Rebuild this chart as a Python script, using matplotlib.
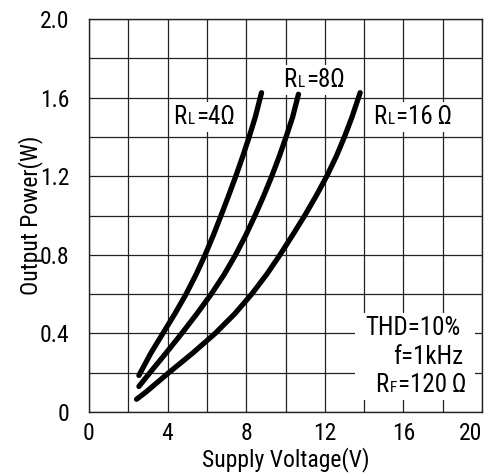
import matplotlib
matplotlib.use("Agg")
import matplotlib.pyplot as plt
from matplotlib.offsetbox import TextArea, HPacker, AnnotationBbox
from matplotlib.patches import Rectangle
from matplotlib.ticker import FixedLocator, FuncFormatter

FONT = ['Liberation Sans Narrow', 'Roboto Condensed', 'Roboto', 'DejaVu Sans']
plt.rcParams['font.family'] = FONT

# curves: supply voltage (V) vs output power (W)
v_4ohm = [2.54, 3.15, 3.76, 4.37, 4.94, 5.45, 5.91, 6.33, 6.72, 7.10, 7.47,
          7.82, 8.15, 8.46, 8.78]
p_4ohm = [0.186, 0.3, 0.4, 0.5, 0.6, 0.7, 0.8, 0.9, 1.0, 1.1, 1.2,
          1.3, 1.4, 1.5, 1.625]

v_8ohm = [2.54, 3.10, 3.92, 4.72, 5.49, 6.22, 6.88, 7.46, 7.98, 8.45, 8.89,
          9.30, 9.68, 10.03, 10.36, 10.66]
p_8ohm = [0.13, 0.2, 0.3, 0.4, 0.5, 0.6, 0.7, 0.8, 0.9, 1.0, 1.1,
          1.2, 1.3, 1.4, 1.5, 1.617]

v_16ohm = [2.42, 2.88, 3.47, 4.06, 5.28, 6.42, 7.42, 8.28, 9.04, 9.72, 10.36,
           10.98, 11.56, 12.10, 12.58, 13.00, 13.38, 13.80]
p_16ohm = [0.065, 0.1, 0.15, 0.2, 0.3, 0.4, 0.5, 0.6, 0.7, 0.8, 0.9,
           1.0, 1.1, 1.2, 1.3, 1.4, 1.5, 1.625]

x_ticks = [0, 4, 8, 12, 16, 20]
y_ticks = [0, 0.4, 0.8, 1.2, 1.6, 2.0]

fig = plt.figure(figsize=(4.88, 4.76), dpi=100)
ax = fig.add_axes([89 / 488, 64 / 476, 393 / 488, 393 / 476])

for v, p in [(v_4ohm, p_4ohm), (v_8ohm, p_8ohm), (v_16ohm, p_16ohm)]:
    ax.plot(v, p, color='black', lw=3.8, solid_capstyle='round',
            solid_joinstyle='round', zorder=5)

ax.set_xlim(0, 20)
ax.set_ylim(0, 2.0)
ax.xaxis.set_major_locator(FixedLocator(x_ticks))
ax.xaxis.set_minor_locator(FixedLocator([2, 6, 10, 14, 18]))
ax.yaxis.set_major_locator(FixedLocator(y_ticks))
ax.yaxis.set_minor_locator(FixedLocator([0.2, 0.6, 1.0, 1.4, 1.8]))
ax.yaxis.set_major_formatter(FuncFormatter(lambda y, _: '0' if y == 0 else f'{y:.1f}'))
ax.grid(which='both', color='#222222', lw=0.9, zorder=0)
ax.tick_params(which='both', length=0, labelsize=17)
ax.tick_params(axis='x', pad=7)
ax.tick_params(axis='y', pad=14)
for s in ax.spines.values():
    s.set_linewidth(1.0)
    s.set_color('#222222')
# last x label sits inside the figure edge, as in the original
fig.canvas.draw()
ax.get_xticklabels()[-1].set_horizontalalignment('right')
ax.get_xticklabels()[-1].set_x(20.1)

ax.set_xlabel('Supply Voltage(V)', fontsize=17, labelpad=2)
ax.set_ylabel('Output Power(W)', fontsize=17, labelpad=-2)


def label(x, y, main, sub, rest, size=18):
    parts = [TextArea(main, textprops=dict(size=size, family=FONT)),
             TextArea(sub, textprops=dict(size=size * 0.62, family=FONT)),
             TextArea(rest, textprops=dict(size=size, family=FONT))]
    box = HPacker(children=parts, align='baseline', pad=0, sep=1)
    ab = AnnotationBbox(box, (x, y), frameon=True, pad=0.2,
                        bboxprops=dict(facecolor='white', edgecolor='none'),
                        zorder=3)
    ax.add_artist(ab)
    return ab


label(5.85, 1.50, 'R', 'L', '=4Ω')
label(11.45, 1.69, 'R', 'L', '=8Ω')
label(16.46, 1.50, 'R', 'L', '=16\u2009Ω')

ax.add_patch(Rectangle((13.55, 0.06), 6.1, 0.445, facecolor='white',
                       edgecolor='none', zorder=2))
ax.text(14.05, 0.427, 'THD=10%', fontsize=18, va='center', ha='left', zorder=4)
ax.text(15.5, 0.282, 'f=1kHz', fontsize=18, va='center', ha='left', zorder=4)
parts = [TextArea('R', textprops=dict(size=18, family=FONT)),
         TextArea('F', textprops=dict(size=11, family=FONT)),
         TextArea('=120\u2009Ω', textprops=dict(size=18, family=FONT))]
rf = AnnotationBbox(HPacker(children=parts, align='baseline', pad=0, sep=1),
                    (14.55, 0.137), box_alignment=(0, 0.5), frameon=False,
                    pad=0, zorder=4)
ax.add_artist(rf)

fig.savefig('out.png', dpi=100)
